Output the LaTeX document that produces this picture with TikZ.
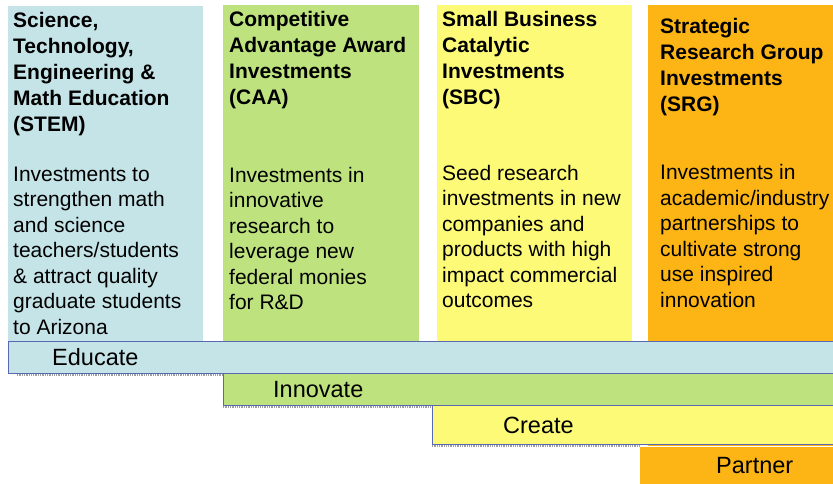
\documentclass[tikz,border=0pt]{standalone}
\usepackage{fontspec}
\setmainfont{Liberation Sans}
\definecolor{stemblue}{HTML}{C5E4E8}
\definecolor{caagreen}{HTML}{BEE37E}
\definecolor{sbcyellow}{HTML}{FDFA78}
\definecolor{srgorange}{HTML}{FDB515}
\definecolor{barline}{HTML}{5A68B4}
\begin{document}
\begin{tikzpicture}[x=1pt,y=-1pt]
  \tikzstyle{head}=[anchor=base west,inner sep=0pt,align=left,font=\fontsize{21}{26}\selectfont\bfseries];
  \tikzstyle{body}=[anchor=base west,inner sep=0pt,align=left,font=\fontsize{21}{25.5}\selectfont];
  \tikzstyle{bar}=[draw=barline,line width=0.9pt];
  \tikzstyle{barlabel}=[anchor=base west,inner sep=0pt,font=\fontsize{23.5}{28}\selectfont];
  \tikzstyle{shadow}=[draw=gray!75,densely dotted,line width=1.3pt];
  \clip (0,0) rectangle (833,483);
  \fill[white] (0,0) rectangle (833,483);

  \fill[stemblue] (8,6) rectangle (203,341);
  \fill[caagreen] (223,5) rectangle (419,373);
  \fill[sbcyellow] (437,5) rectangle (632,405);
  \fill[srgorange] (648,5) rectangle (840,446);

  \node[head] (stemhead) at (13,131) {Science,\\Technology,\\Engineering \&\\Math Education\\(STEM)};
  \node[body] (stembody) at (13,334) {Investments to\\strengthen math\\and science\\teachers/students\\\& attract quality\\graduate students\\to Arizona};
  \node[head] (caahead) at (229,104) {Competitive\\Advantage Award\\Investments\\(CAA)};
  \node[body] (caabody) at (229,309.5) {Investments in\\innovative\\research to\\leverage new\\federal monies\\for R\&D};
  \node[head] (sbchead) at (442,104) {Small Business\\Catalytic\\Investments\\(SBC)};
  \node[body] (sbcbody) at (442,307.5) {Seed research\\investments in new\\companies and\\products with high\\impact commercial\\outcomes};
  \node[head] (srghead) at (660,111) {Strategic\\Research Group\\Investments\\(SRG)};
  \node[body] (srgbody) at (660,307) {Investments in\\academic/industry\\partnerships to\\cultivate strong\\use inspired\\innovation};

  \path[shadow] (17,375) -- (223,375);
  \path[shadow] (223,407) -- (432,407);
  \path[shadow] (432,446) -- (640,446);

  \fill[srgorange] (640,447) rectangle (840,490);
  \path[bar,fill=sbcyellow] (432,405) rectangle (840,444);
  \path[bar,fill=caagreen] (223,373) rectangle (840,405);
  \path[bar,fill=stemblue] (8,341) rectangle (840,373);

  \node[barlabel] (educate) at (52,365) {Educate};
  \node[barlabel] (innovate) at (273,397) {Innovate};
  \node[barlabel] (create) at (503,433) {Create};
  \node[barlabel] (partner) at (716,473) {Partner};
\end{tikzpicture}
\end{document}
